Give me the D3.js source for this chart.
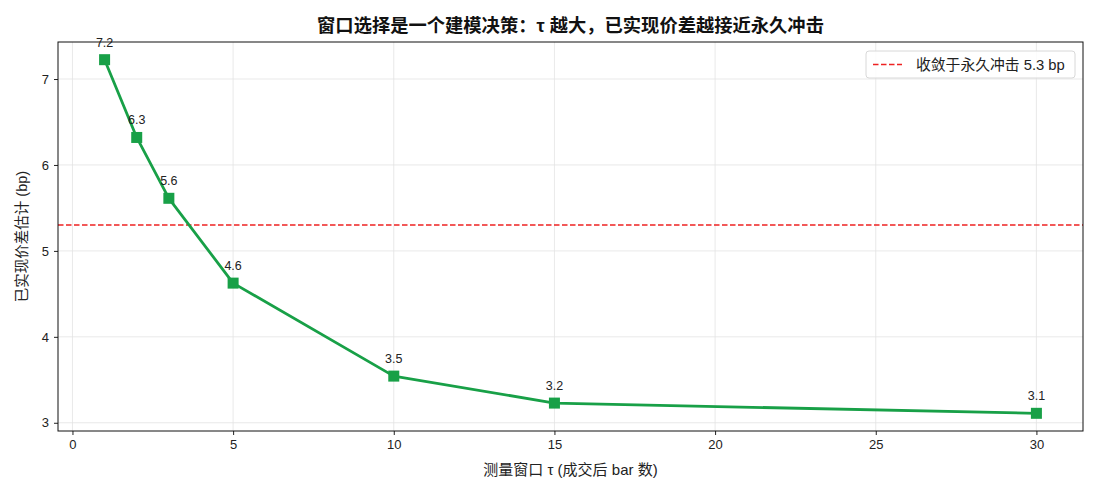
<!DOCTYPE html>
<html>
<head>
<meta charset="utf-8">
<script src="https://cdn.jsdelivr.net/npm/d3@7"></script>
<style>
  body { margin: 0; background: #fff; }
  text { font-family: "Liberation Sans", "Noto Sans CJK SC", sans-serif; }
</style>
</head>
<body>
<svg id="chart"></svg>
<script>
const width = 1100;
const height = 495;
const margin = { top: 42, right: 17, bottom: 64, left: 58 };

// measurement window tau (bars after trade) and realized spread estimate (bp)
const tauValues = [1, 2, 3, 5, 10, 15, 30];
const spreadValues = [7.225, 6.32, 5.612, 4.625, 3.543, 3.229, 3.11];
const pointLabels = ["7.2", "6.3", "5.6", "4.6", "3.5", "3.2", "3.1"];
const permanentImpact = 5.3;
const xTicks = [0, 5, 10, 15, 20, 25, 30];
const yTicks = [3, 4, 5, 6, 7];

const titleText = "窗口选择是一个建模决策：τ 越大，已实现价差越接近永久冲击";
const xLabelText = "测量窗口 τ (成交后 bar 数)";
const yLabelText = "已实现价差估计 (bp)";
const legendText = "收敛于永久冲击 5.3 bp";

const green = "#18a047";
const red = "#ee2222";

const svg = d3.select("#chart")
    .attr("width", width)
    .attr("height", height);

const pts = tauValues.map((t, i) => ({ tau: t, val: spreadValues[i], label: pointLabels[i] }));

// matplotlib-ish 5% margins
let xPad = (d3.max(tauValues) - d3.min(tauValues)) * 0.05;
let yPad = (d3.max(spreadValues) - d3.min(spreadValues)) * 0.05;

let xScale = d3.scaleLinear()
    .domain([d3.min(tauValues) - xPad, d3.max(tauValues) + xPad])
    .range([margin.left, width - margin.right]);

let yScale = d3.scaleLinear()
    .domain([d3.min(spreadValues) - yPad, d3.max(spreadValues) + yPad])
    .range([height - margin.bottom, margin.top]);

// grid
svg.append("g")
    .selectAll("line.vgrid")
    .data(xTicks)
    .enter()
    .append("line")
    .attr("x1", d => xScale(d)).attr("x2", d => xScale(d))
    .attr("y1", margin.top).attr("y2", height - margin.bottom)
    .attr("stroke", "#e3e3e3").attr("stroke-width", 0.8);

svg.append("g")
    .selectAll("line.hgrid")
    .data(yTicks)
    .enter()
    .append("line")
    .attr("x1", margin.left).attr("x2", width - margin.right)
    .attr("y1", d => yScale(d)).attr("y2", d => yScale(d))
    .attr("stroke", "#e3e3e3").attr("stroke-width", 0.8);

// axes
let xAxis = d3.axisBottom(xScale).tickValues(xTicks).tickSize(4).tickPadding(5).tickFormat(d3.format("d"));
let yAxis = d3.axisLeft(yScale).tickValues(yTicks).tickSize(4).tickPadding(5).tickFormat(d3.format("d"));

let gx = svg.append("g")
    .attr("transform", `translate(0, ${height - margin.bottom})`)
    .call(xAxis);
let gy = svg.append("g")
    .attr("transform", `translate(${margin.left}, 0)`)
    .call(yAxis);

[gx, gy].forEach(g => {
    g.select(".domain").remove();
    g.selectAll("text").attr("font-size", 13).attr("fill", "#222")
        .style("font-family", "'Liberation Sans', sans-serif");
    g.selectAll("line").attr("stroke", "#222");
});

// reference line
svg.append("line")
    .attr("x1", margin.left).attr("x2", width - margin.right)
    .attr("y1", yScale(permanentImpact)).attr("y2", yScale(permanentImpact))
    .attr("stroke", red).attr("stroke-width", 1.5)
    .attr("stroke-dasharray", "5.5,2.5");

// series line
let line = d3.line().x(d => xScale(d.tau)).y(d => yScale(d.val));

svg.append("path")
    .datum(pts)
    .attr("d", line)
    .attr("fill", "none")
    .attr("stroke", green)
    .attr("stroke-width", 2.8)
    .attr("stroke-linejoin", "round");

const ms = 11;
svg.selectAll("rect.marker")
    .data(pts)
    .enter()
    .append("rect")
    .attr("class", "marker")
    .attr("x", d => xScale(d.tau) - ms / 2)
    .attr("y", d => yScale(d.val) - ms / 2)
    .attr("width", ms).attr("height", ms)
    .attr("fill", green);

svg.selectAll("text.plabel")
    .data(pts)
    .enter()
    .append("text")
    .attr("class", "plabel")
    .attr("x", d => xScale(d.tau))
    .attr("y", d => yScale(d.val) - 13)
    .attr("text-anchor", "middle")
    .attr("font-size", 12.5)
    .attr("fill", "#222")
    .text(d => d.label);

// frame
svg.append("rect")
    .attr("x", margin.left).attr("y", margin.top)
    .attr("width", width - margin.left - margin.right)
    .attr("height", height - margin.top - margin.bottom)
    .attr("fill", "none").attr("stroke", "#111").attr("stroke-width", 1);

// title and labels
svg.append("text")
    .attr("x", (margin.left + width - margin.right) / 2)
    .attr("y", 32)
    .attr("text-anchor", "middle")
    .attr("font-size", 18.3)
    .attr("font-weight", "bold")
    .attr("fill", "#111")
    .text(titleText);

svg.append("text")
    .attr("x", (margin.left + width - margin.right) / 2)
    .attr("y", 475)
    .attr("text-anchor", "middle")
    .attr("font-size", 15)
    .attr("fill", "#222")
    .text(xLabelText);

svg.append("text")
    .attr("transform", `translate(27, ${(margin.top + height - margin.bottom) / 2}) rotate(-90)`)
    .attr("text-anchor", "middle")
    .attr("font-size", 14.5)
    .attr("fill", "#222")
    .text(yLabelText);

// legend
let legend = svg.append("g").attr("transform", "translate(866, 51)");
legend.append("rect")
    .attr("width", 209).attr("height", 27).attr("rx", 3)
    .attr("fill", "#fff").attr("fill-opacity", 0.85)
    .attr("stroke", "#d8d8d8");
legend.append("line")
    .attr("x1", 7).attr("x2", 36).attr("y1", 13.5).attr("y2", 13.5)
    .attr("stroke", red).attr("stroke-width", 1.5)
    .attr("stroke-dasharray", "5.5,2.5");
legend.append("text")
    .attr("x", 50).attr("y", 18.5)
    .attr("font-size", 14.8)
    .attr("fill", "#222")
    .text(legendText);
</script>
</body>
</html>
